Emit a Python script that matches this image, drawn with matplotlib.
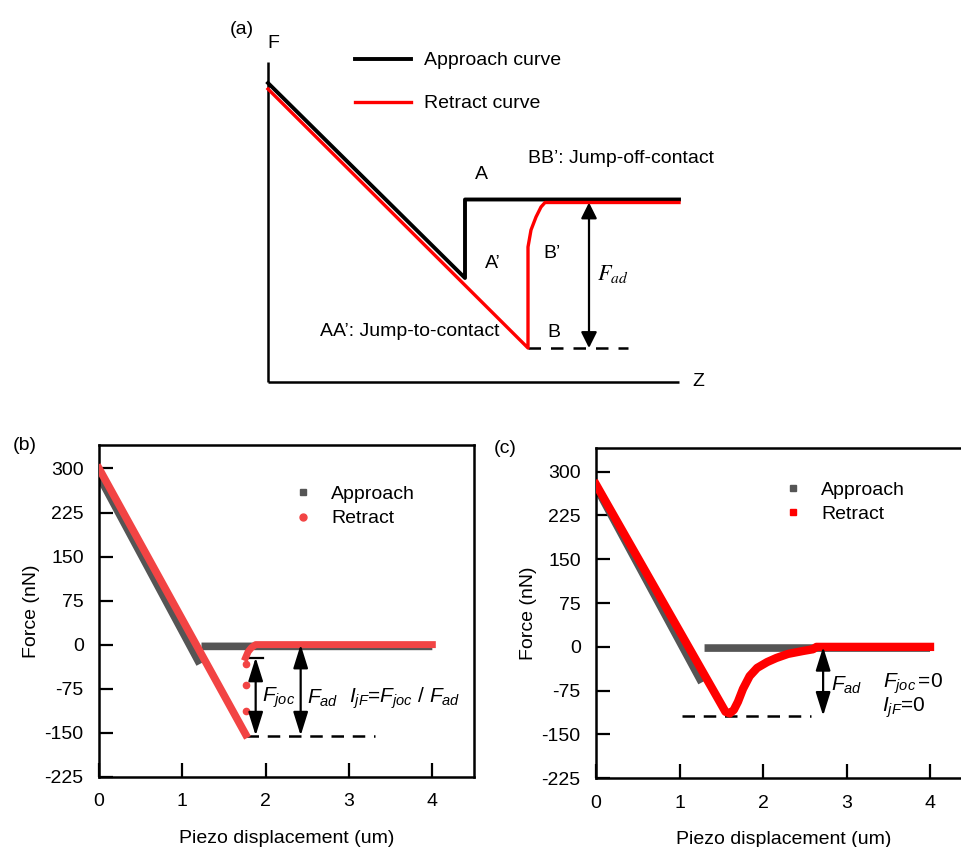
import numpy as np
import matplotlib
matplotlib.use("Agg")
import matplotlib.pyplot as plt
from matplotlib.lines import Line2D

plt.rcParams["font.family"] = ["Liberation Sans", "DejaVu Sans"]
plt.rcParams["mathtext.fontset"] = "custom"
plt.rcParams["mathtext.rm"] = "Liberation Sans"
plt.rcParams["mathtext.it"] = "Liberation Sans:italic"
plt.rcParams["axes.unicode_minus"] = False

FONTSIZE = 14
GRAY = "#555555"
RED_B = "#f24444"
RED_C = "#ff0000"

# ---- (a) schematic, arbitrary Z/F units ----
SCH_APPROACH_Z = [0, 197, 197, 411]
SCH_APPROACH_F = [299, 104, 182.5, 182.5]
SCH_RETRACT_Z = [0, 260, 260, 263, 268, 273, 277, 411]
SCH_RETRACT_F = [293, 34, 135, 152, 165, 175, 179.5, 179.5]
SCH_FAD_Z = 321
SCH_FAD_TOP = 179.5
SCH_FAD_BOTTOM = 34
SCH_DASH_Z = [260, 360]
SCH_AXIS_F = 320
SCH_AXIS_Z = 411

# ---- (b) ----
B_APP_X = [0, 1.21, np.nan, 1.23, 4.0]
B_APP_Y = [287, -33, np.nan, -3, -3]
B_RET_X = [0, 1.76]
B_RET_Y = [300, -153]
B_JUMP_X = [1.76, 1.76, 1.76]
B_JUMP_Y = [-33, -68, -113]
B_OFF_X = [1.76, 1.79, 1.83, 1.88, 4.0]
B_OFF_Y = [-22, -12, -5, 0, 0]
B_FJOC = (1.88, -22, -155)
B_FAD = (2.42, 0, -155)
B_DASH_X = [1.76, 3.31]
B_DASH_Y = -155

# ---- (c) ----
C_APP_X = [0, 1.266, np.nan, 1.285, 1.285, np.nan, 1.30, 4.0]
C_APP_Y = [274, -61, np.nan, -21, -21, np.nan, -2, -2]
C_RET_X = [0, 1.55, 1.60, 1.65, 1.70, 1.76, 1.84, 1.93, 2.05, 2.16, 2.30, 2.48, 2.60, 2.64, 4.0]
C_RET_Y = [278, -111, -114, -108, -94, -72, -50, -36, -26, -19, -12, -7, -4, 0, 0]
C_FAD = (2.72, 0, -118)
C_DASH_X = [1.03, 2.58]
C_DASH_Y = -118

XTICKS = [0, 1, 2, 3, 4]
YTICKS = [-225, -150, -75, 0, 75, 150, 225, 300]

fig = plt.figure(figsize=(9.61, 8.47), dpi=100)

# ---------------- panel (a) ----------------
axa = fig.add_axes([0, 0.5, 1, 0.5])
axa.set_xlim(-268, 693)
axa.set_ylim(-41.5, 382)
axa.axis("off")
axa.plot([0, 0], [0, SCH_AXIS_F], color="k", lw=1.8, solid_capstyle="butt")
axa.plot([0, SCH_AXIS_Z], [0, 0], color="k", lw=1.8, solid_capstyle="butt")
axa.plot(SCH_APPROACH_Z, SCH_APPROACH_F, color="k", lw=2.8, zorder=3)
axa.plot(SCH_RETRACT_Z, SCH_RETRACT_F, color="red", lw=2.4, zorder=4)
axa.plot(SCH_DASH_Z, [SCH_FAD_BOTTOM] * 2, color="k", lw=1.8, ls=(0, (5, 4)))
axa.annotate("", xy=(SCH_FAD_Z, SCH_FAD_BOTTOM), xytext=(SCH_FAD_Z, SCH_FAD_TOP),
             arrowprops=dict(arrowstyle="<|-|>", color="k", lw=1.6,
                             mutation_scale=24, shrinkA=0, shrinkB=0))
axa.plot([87, 143], [323, 323], color="k", lw=2.8)
axa.plot([87, 143], [280, 280], color="red", lw=2.4)
axa.text(156, 322, "Approach curve", fontsize=FONTSIZE, va="center")
axa.text(156, 279, "Retract curve", fontsize=FONTSIZE, va="center")
axa.text(-26, 353, "(a)", fontsize=FONTSIZE, ha="center", va="center")
axa.text(5, 339, "F", fontsize=FONTSIZE, ha="center", va="center")
axa.text(430, 1, "Z", fontsize=FONTSIZE, ha="center", va="center")
axa.text(213, 208, "A", fontsize=FONTSIZE, ha="center", va="center")
axa.text(225, 119, "A\u2019", fontsize=FONTSIZE, ha="center", va="center")
axa.text(284, 129, "B\u2019", fontsize=FONTSIZE, ha="center", va="center")
axa.text(286, 50, "B", fontsize=FONTSIZE, ha="center", va="center")
axa.text(231, 51, "AA\u2019: Jump-to-contact", fontsize=FONTSIZE, ha="right", va="center")
axa.text(260, 224, "BB\u2019: Jump-off-contact", fontsize=FONTSIZE, ha="left", va="center")
axa.text(345, 108, r"$F_{ad}$", fontsize=16, ha="center", va="center",
         math_fontfamily="stix")


def style_axes(ax):
    ax.set_xlim(0, 4.5)
    ax.set_ylim(-225, 340)
    ax.set_xticks(XTICKS)
    ax.set_yticks(YTICKS)
    ax.tick_params(direction="in", length=10, width=1.6, labelsize=FONTSIZE,
                   top=False, right=False)
    ax.tick_params(axis="y", pad=11)
    ax.tick_params(axis="x", pad=12)
    for s in ax.spines.values():
        s.set_linewidth(1.8)
    ax.set_xlabel("Piezo displacement (um)", fontsize=FONTSIZE, labelpad=14)
    ax.set_ylabel("Force (nN)", fontsize=FONTSIZE, labelpad=3)


def double_arrow(ax, x, ytop, ybot, ms=18):
    ax.annotate("", xy=(x, ybot), xytext=(x, ytop),
                arrowprops=dict(arrowstyle="<|-|>,head_length=0.8,head_width=0.25",
                                color="k", lw=1.6, mutation_scale=ms,
                                shrinkA=0, shrinkB=0))


# ---------------- panel (b) ----------------
axb = fig.add_axes([99 / 961, 1 - 776.7 / 847, 375 / 961, 331.7 / 847])
style_axes(axb)
axb.plot(B_APP_X, B_APP_Y, color=GRAY, lw=5.5, solid_capstyle="butt")
axb.plot(B_RET_X, B_RET_Y, color=RED_B, lw=5.5, zorder=3)
axb.plot(B_OFF_X, B_OFF_Y, color=RED_B, lw=5, zorder=3)
axb.plot(B_JUMP_X, B_JUMP_Y, "o", color=RED_B, ms=4.5, zorder=3)
axb.plot(B_DASH_X, [B_DASH_Y] * 2, color="k", lw=1.8, ls=(0, (5, 3.5)))
double_arrow(axb, B_FJOC[0], B_FJOC[1], B_FJOC[2])
axb.plot([B_FJOC[0] - 0.09, B_FJOC[0] + 0.09], [B_FJOC[1]] * 2, color="k", lw=1.6)
double_arrow(axb, B_FAD[0], B_FAD[1], B_FAD[2])
axb.text(2.15, -91, r"$F_{joc}$", fontsize=15, ha="center", va="center")
axb.text(2.68, -91, r"$F_{ad}$", fontsize=15, ha="center", va="center")
axb.text(3.0, -91, r"$I_{jF}$=$F_{joc}$ / $F_{ad}$", fontsize=15, ha="left", va="center")
handles_b = [Line2D([], [], ls="", marker="s", color=GRAY, ms=4.5),
             Line2D([], [], ls="", marker="o", color=RED_B, ms=5)]
axb.legend(handles_b, ["Approach", "Retract"], loc="center left",
           bbox_to_anchor=(0.519, 0.815), frameon=False, fontsize=FONTSIZE,
           handlelength=1.0, handletextpad=0.94, borderpad=0, borderaxespad=0,
           labelspacing=0.35)
fig.text(25 / 961, 1 - 445 / 847, "(b)", fontsize=FONTSIZE, ha="center", va="center")

# ---------------- panel (c) ----------------
axc = fig.add_axes([596 / 961, 1 - 778.3 / 847, 375.75 / 961, 330 / 847])
style_axes(axc)
axc.plot(C_APP_X, C_APP_Y, color=GRAY, lw=5.5, solid_capstyle="butt")
axc.plot(C_RET_X, C_RET_Y, color=RED_C, lw=6, zorder=3, solid_joinstyle="round")
axc.plot(C_DASH_X, [C_DASH_Y] * 2, color="k", lw=1.8, ls=(0, (5, 3.5)))
double_arrow(axc, C_FAD[0], C_FAD[1], C_FAD[2])
axc.text(3.0, -66, r"$F_{ad}$", fontsize=15, ha="center", va="center")
axc.text(3.44, -63, r"$F_{joc}\,$=0", fontsize=15, ha="left", va="center")
axc.text(3.42, -105, r"$I_{jF}$=0", fontsize=15, ha="left", va="center")
handles_c = [Line2D([], [], ls="", marker="s", color=GRAY, ms=4.5),
             Line2D([], [], ls="", marker="s", color=RED_C, ms=4.5)]
axc.legend(handles_c, ["Approach", "Retract"], loc="center left",
           bbox_to_anchor=(0.499, 0.837), frameon=False, fontsize=FONTSIZE,
           handlelength=1.0, handletextpad=0.94, borderpad=0, borderaxespad=0,
           labelspacing=0.3)
fig.text(505 / 961, 1 - 448 / 847, "(c)", fontsize=FONTSIZE, ha="center", va="center")

fig.savefig("out.png", dpi=100)
